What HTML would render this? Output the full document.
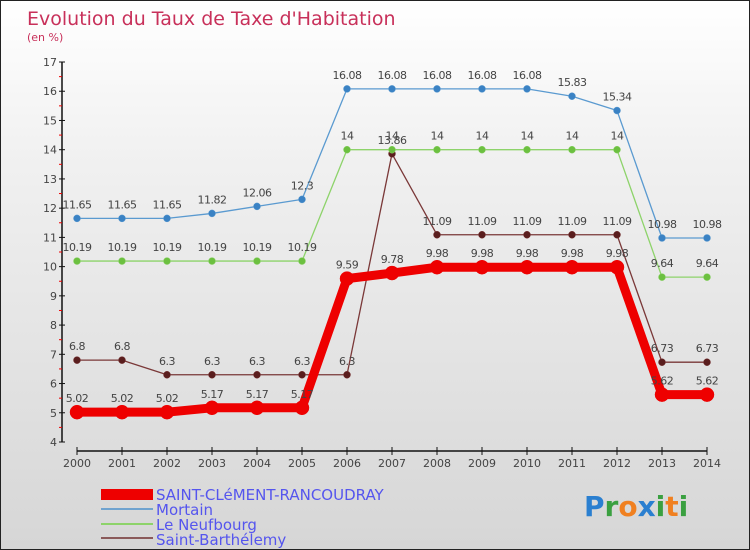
<!DOCTYPE html>
<html><head><meta charset="utf-8"><style>
body{margin:0}
#c{width:750px;height:550px;position:relative;overflow:hidden;box-sizing:border-box;border:1px solid #222;background:linear-gradient(#ffffff,#f0f0f0 30%,#d6d6d6);font-family:"DejaVu Sans","Liberation Sans",sans-serif}
</style></head><body>
<div id="c">
<svg width="750" height="550" style="position:absolute;left:0;top:0">
<text x="26" y="24" font-size="19" fill="#c8305a">Evolution du Taux de Taxe d'Habitation</text>
<text x="26" y="40" font-size="11" fill="#c8305a">(en %)</text>
<g id="axes"></g><g id="series"></g>
<g font-size="15" fill="#5555ee">
<rect x="100" y="488" width="52" height="11" fill="#e00"/>
<text x="155" y="499">SAINT-CLéMENT-RANCOUDRAY</text>
<rect x="100" y="507" width="52" height="2" fill="#6fa3cf"/>
<text x="155" y="514">Mortain</text>
<rect x="100" y="522" width="52" height="2" fill="#8dd36a"/>
<text x="155" y="529">Le Neufbourg</text>
<rect x="100" y="536" width="52" height="2" fill="#8a5a5a"/>
<text x="155" y="544">Saint-Barthélemy</text>
</g>
<text x="583" y="515" font-size="28" font-weight="bold"><tspan fill="#2a7fd0">P</tspan><tspan fill="#3aa040">r</tspan><tspan fill="#f08020">o</tspan><tspan fill="#2a7fd0">x</tspan><tspan fill="#3aa040">i</tspan><tspan fill="#f08020">t</tspan><tspan fill="#3aa040">i</tspan></text>
</svg>
</div>
<script>
const years=[2000,2001,2002,2003,2004,2005,2006,2007,2008,2009,2010,2011,2012,2013,2014];
const yTicks=[4,5,6,7,8,9,10,11,12,13,14,15,16,17];
const stClement=[5.02,5.02,5.02,5.17,5.17,5.17,9.59,9.78,9.98,9.98,9.98,9.98,9.98,5.62,5.62];
const mortain=[11.65,11.65,11.65,11.82,12.06,12.3,16.08,16.08,16.08,16.08,16.08,15.83,15.34,10.98,10.98];
const neufbourg=[10.19,10.19,10.19,10.19,10.19,10.19,14,14,14,14,14,14,14,9.64,9.64];
const stBarth=[6.8,6.8,6.3,6.3,6.3,6.3,6.3,13.86,11.09,11.09,11.09,11.09,11.09,6.73,6.73];
const NS="http://www.w3.org/2000/svg";
const X=i=>76+i*45, Y=v=>441-(v-4)*29.23;
function mk(t,a,p){const e=document.createElementNS(NS,t);for(const k in a)e.setAttribute(k,a[k]);p.appendChild(e);return e;}
const ax=document.getElementById('axes');
let yl=mk('line',{x1:61,y1:Y(17),x2:61,y2:Y(4),stroke:'#111','stroke-width':1.5},ax);


yTicks.forEach(v=>{
 mk('line',{x1:58,y1:Y(v),x2:64,y2:Y(v),stroke:'#111'},ax);
 if(v<17){const r=mk('line',{x1:58,y1:Y(v+0.5),x2:61,y2:Y(v+0.5),stroke:'#e00'},ax);}
 const t=mk('text',{x:56,y:Y(v)+4,'text-anchor':'end','font-size':11,fill:'#444'},ax);
 
 
 t.textContent=v;
});
let xl=mk('line',{x1:76,y1:450,x2:706,y2:450,stroke:'#111','stroke-width':1.5},ax);


years.forEach((y,i)=>{
 mk('line',{x1:X(i),y1:446,x2:X(i),y2:454,stroke:'#111'},ax);
 const t=mk('text',{x:X(i),y:466,'text-anchor':'middle','font-size':11,fill:'#444'},ax);
 
 
 t.textContent=y;
});
const sg=document.getElementById('series');
function draw(vals,col,w,r,name,dot){
 const g=mk('g',{},sg);
 
 
 mk('polyline',{points:vals.map((v,i)=>X(i)+','+Y(v)).join(' '),fill:'none',stroke:col,'stroke-width':w,'stroke-linejoin':'round'},g);
 vals.forEach((v,i)=>{
  const c=mk('circle',{cx:X(i),cy:Y(v),r:r,fill:dot,stroke:col,'stroke-width':0.5},g);
  
  
  const t=mk('text',{x:X(i),y:Y(v)-10,'text-anchor':'middle','font-size':11,fill:'#444','letter-spacing':'-0.5'},g);
  
  
  t.textContent=v;
 });
}
draw(stBarth,'#7a3838',1.3,3.5,'saint-barthelemy','#5a1e1e');
draw(neufbourg,'#8dd36a',1.3,3.5,'le-neufbourg','#6cc040');
draw(mortain,'#5a9ad0',1.3,3.5,'mortain','#3a82c4');
draw(stClement,'#e00',9,7,'saint-clement','#e00');
</script>
</body></html>
